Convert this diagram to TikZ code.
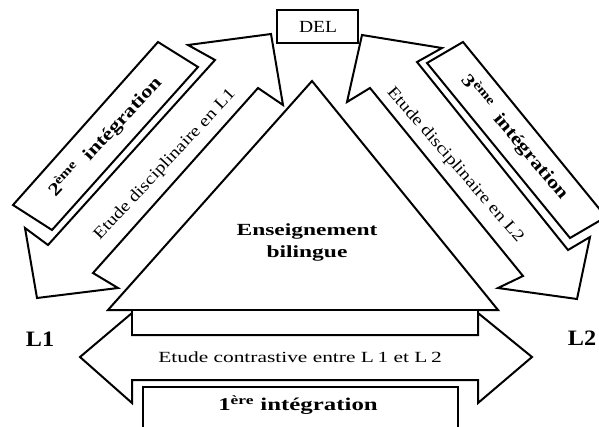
\documentclass[tikz,border=0pt]{standalone}
\usepackage{fontspec}
\setmainfont{Liberation Serif}
\usepackage{tikz}

\begin{document}
\begin{tikzpicture}[x=1pt, y=-1pt,
          blk/.style={draw=black, line width=2pt, line join=miter, fill=white},
          txt/.style={xscale=1.38, inner sep=0pt, text=black},
          reg/.style={txt, font=\fontsize{15.5}{18}\selectfont},
          bld/.style={txt, font=\fontsize{18}{21}\selectfont\bfseries},
          slant/.style={inner sep=0pt, text=black, rotate=#1}
        ]
        \useasboundingbox (0,0) rectangle (599,426);
        \clip (0,0) rectangle (599,426);

        % Contrastive arrow
        \draw[blk] (80,357) -- (132,313) -- (132,335) -- (478,335) -- (478,313)
              -- (532,357) -- (478,403) -- (478,380) -- (132,380) -- (132,403) -- cycle;
        \node[reg] (contr) at (300,357) {Etude contrastive entre L\,1 et L\,2};

        % Triangle
        \draw[blk] (108,310) -- (312,81) -- (498,310) -- cycle;
        \draw[blk] (132,310) rectangle (478,335);
        \node[bld, font=\fontsize{17}{22}\selectfont\bfseries, align=center]
              (ens) at (307,242) {Enseignement\\bilingue};

        % 1st integration
        \draw[blk] (143,430) -- (143,387) -- (458,387) -- (458,430);
        \node[bld] (int1) at (298,405) {1\textsuperscript{ère} intégration};

        % L1 side
        \draw[blk] (37,298) -- (25,228) -- (48,245) -- (215,60) -- (188,45) -- (271,34)
              -- (283,105) -- (258,88) -- (93,273) -- (118,288) -- cycle;
        \node[slant=47, xscale=1.2, font=\fontsize{16.5}{19}\selectfont]
              (disc1) at (165,165) {Etude disciplinaire en L1};
        \draw[blk] (158,42) -- (198,67) -- (52,230) -- (13,205) -- cycle;
        \node[slant=47, xscale=1.25, font=\fontsize{18}{21}\selectfont\bfseries]
              (int2) at (105,137) {2\textsuperscript{ème}\ \ intégration};

        % L2 side
        \draw[blk] (362,35) -- (442,48) -- (417,62) -- (568,250) -- (590,237) -- (577,299)
              -- (498,288) -- (523,276) -- (370,88) -- (347,102) -- cycle;
        \node[slant=-49, xscale=1.2, font=\fontsize{16.5}{19}\selectfont]
              (disc2) at (455,165) {Etude disciplinaire en L2};
        \draw[blk] (463,42) -- (427,63) -- (570,238) -- (606,217) -- cycle;
        \node[slant=-50, xscale=1.25, font=\fontsize{18}{21}\selectfont\bfseries]
              (int3) at (515,137) {3\textsuperscript{ème}\ \ intégration};

        % DEL
        \draw[blk] (277,10) rectangle (358,43);
        \node[reg, xscale=1.15/1.38, font=\fontsize{17}{20}\selectfont] (del) at (318,27) {DEL};

        % Languages
        \node[bld, xscale=1.1/1.38, font=\fontsize{22}{26}\selectfont\bfseries] (l1) at (40,339) {L1};
        \node[bld, xscale=1.1/1.38, font=\fontsize{22}{26}\selectfont\bfseries] (l2) at (582,338) {L2};
      \end{tikzpicture}
\end{document}
